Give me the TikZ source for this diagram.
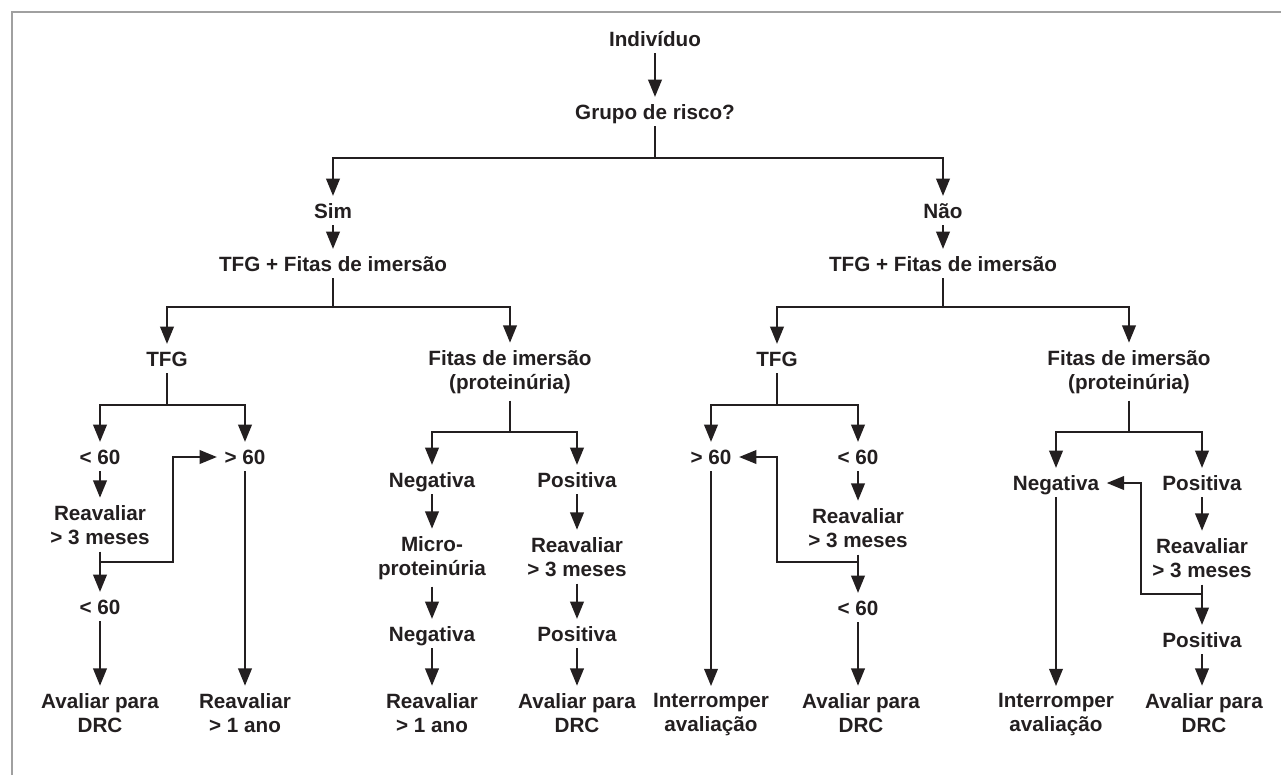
\documentclass[tikz,border=0pt]{standalone}
\usepackage{fontspec}
\setmainfont{Liberation Sans}
\usetikzlibrary{arrows.meta,positioning}
\definecolor{InkBlack}{RGB}{35,31,32}
\definecolor{FrameGray}{RGB}{160,160,160}
\tikzset{
  term/.style={inner sep=0pt, text=InkBlack,
    font=\bfseries\fontsize{15.5}{18}\selectfont,
    text height=11.1pt, text depth=0pt},
  twoline/.style={inner sep=0pt, text=InkBlack, align=center,
    font=\bfseries\fontsize{15.5}{18}\selectfont},
  flow/.style={-{Triangle[length=13pt,width=10pt]}, line width=2pt,
    draw=InkBlack, shorten >=5.5pt},
  link/.style={line width=2pt, draw=InkBlack},
  fromtext/.style={shorten <=5pt},
  frame/.style={draw=FrameGray, line width=1pt}
}
\begin{document}
\begin{tikzpicture}[x=0.75pt,y=-0.75pt]
  \useasboundingbox (0,0) rectangle (1281,775);
  \draw[frame] (12,775) -- (12,12) -- (1281,12);

  \node[term] (ind) at (655,39) {Indivíduo};
  \node[term] (grupo) at (655,112) {Grupo de risco?};
  \node[term] (sim) at (333,211) {Sim};
  \node[term] (nao) at (943,211) {Não};
  \node[term] (tfsim) at (333,264) {TFG + Fitas de imersão};
  \node[term] (tfnao) at (943,264) {TFG + Fitas de imersão};

  \node[term] (tfgL) at (167,359) {TFG};
  \node[twoline] (fitL) at (510,372) {Fitas de imersão\\(proteinúria)};
  \node[term] (tfgR) at (777,359) {TFG};
  \node[twoline] (fitR) at (1129,372) {Fitas de imersão\\(proteinúria)};

  \node[term] (ltL) at (100,457) {< 60};
  \node[term] (gtL) at (245,457) {> 60};
  \node[twoline] (reavL) at (100,525) {Reavaliar\\> 3 meses};
  \node[term] (ltL2) at (100,607) {< 60};
  \node[twoline] (avalL) at (100,713) {Avaliar para\\DRC};
  \node[twoline] (anoL) at (245,713) {Reavaliar\\> 1 ano};

  \node[term] (negM) at (432,480) {Negativa};
  \node[term] (posM) at (577,480) {Positiva};
  \node[twoline] (microM) at (432,558) {Micro-\\proteinúria};
  \node[twoline] (reavM) at (577,557) {Reavaliar\\> 3 meses};
  \node[term] (negM2) at (432,634) {Negativa};
  \node[term] (posM2) at (577,634) {Positiva};
  \node[twoline] (anoM) at (432,713) {Reavaliar\\> 1 ano};
  \node[twoline] (avalM) at (577,713) {Avaliar para\\DRC};

  \node[term] (gtR) at (711,457) {> 60};
  \node[term] (ltR) at (858,457) {< 60};
  \node[twoline] (reavR) at (858,528) {Reavaliar\\> 3 meses};
  \node[term] (ltR2) at (858,608) {< 60};
  \node[twoline] (stopR) at (711,715) {Interromper\\avaliação};
  \node[twoline] (avalR) at (861,713) {Avaliar para\\DRC};

  \node[term] (negR) at (1056,483) {Negativa};
  \node[term] (posR) at (1202,483) {Positiva};
  \node[twoline] (reavR2) at (1202,558) {Reavaliar\\> 3 meses};
  \node[term] (posR2) at (1202,640) {Positiva};
  \node[twoline] (stopR2) at (1056,715) {Interromper\\avaliação};
  \node[twoline] (avalR2) at (1204,713) {Avaliar para\\DRC};

  \coordinate (j0) at (655,158);
  \coordinate (j1) at (333,307);
  \coordinate (j2) at (943,307);
  \coordinate (j3) at (167,405);
  \coordinate (j4) at (510,432);
  \coordinate (j5) at (777,405);
  \coordinate (j6) at (1129,432);
  \coordinate (k1) at (100,562);
  \coordinate (k2) at (858,562);
  \coordinate (k3) at (1202,594);

  \draw[flow,fromtext] (ind) -- (grupo);
  \draw[link,fromtext] (grupo) -- (j0);
  \draw[flow] (j0) -| (sim);
  \draw[flow] (j0) -| (nao);
  \draw[flow,fromtext] (sim) -- (tfsim);
  \draw[flow,fromtext] (nao) -- (tfnao);

  \draw[link,fromtext] (tfsim) -- (j1);
  \draw[flow] (j1) -| (tfgL);
  \draw[flow] (j1) -| (fitL);
  \draw[link,fromtext] (tfnao) -- (j2);
  \draw[flow] (j2) -| (tfgR);
  \draw[flow] (j2) -| (fitR);

  \draw[link,fromtext] (tfgL) -- (j3);
  \draw[flow] (j3) -| (ltL);
  \draw[flow] (j3) -| (gtL);
  \draw[flow,fromtext] (ltL) -- (reavL);
  \draw[flow,fromtext] (reavL) -- (ltL2);
  \draw[flow] (k1) -- ++(73,0) |- (gtL);
  \draw[flow,fromtext] (ltL2) -- (avalL);
  \draw[flow,fromtext] (gtL) -- (anoL);

  \draw[link,fromtext] (fitL) -- (j4);
  \draw[flow] (j4) -| (negM);
  \draw[flow] (j4) -| (posM);
  \draw[flow,fromtext] (negM) -- (microM);
  \draw[flow,fromtext] (microM) -- (negM2);
  \draw[flow,fromtext] (negM2) -- (anoM);
  \draw[flow,fromtext] (posM) -- (reavM);
  \draw[flow,fromtext] (reavM) -- (posM2);
  \draw[flow,fromtext] (posM2) -- (avalM);

  \draw[link,fromtext] (tfgR) -- (j5);
  \draw[flow] (j5) -| (gtR);
  \draw[flow] (j5) -| (ltR);
  \draw[flow,fromtext] (ltR) -- (reavR);
  \draw[flow,fromtext] (reavR) -- (ltR2);
  \draw[flow] (k2) -- ++(-81,0) |- (gtR);
  \draw[flow,fromtext] (ltR2) -- (ltR2 |- avalR.north);
  \draw[flow,fromtext] (gtR) -- (stopR);

  \draw[link,fromtext] (fitR) -- (j6);
  \draw[flow] (j6) -| (negR);
  \draw[flow] (j6) -| (posR);
  \draw[flow,fromtext] (posR) -- (reavR2);
  \draw[flow,fromtext] (reavR2) -- (posR2);
  \draw[flow] (k3) -- ++(-61,0) |- (negR);
  \draw[flow,fromtext] (posR2) -- (posR2 |- avalR2.north);
  \draw[flow,fromtext] (negR) -- (stopR2);
\end{tikzpicture}
\end{document}
